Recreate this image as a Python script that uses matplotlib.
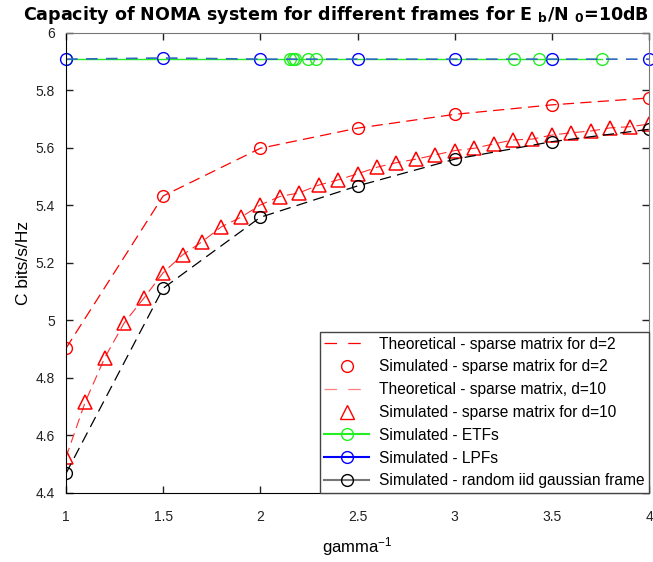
import numpy as np
import matplotlib
matplotlib.use('Agg')
import matplotlib.pyplot as plt
from matplotlib.lines import Line2D

plt.rcParams['font.family'] = ['Liberation Sans', 'DejaVu Sans']
plt.rcParams['mathtext.fontset'] = 'custom'
plt.rcParams['mathtext.rm'] = 'Liberation Sans'
plt.rcParams['mathtext.it'] = 'Liberation Sans'
plt.rcParams['mathtext.bf'] = 'DejaVu Sans:bold'

# gamma^-1 grid
x_coarse = [1.0, 1.5, 2.0, 2.5, 3.0, 3.5, 4.0]
x_fine = [1.0, 1.1, 1.2, 1.3, 1.4, 1.5, 1.6, 1.7, 1.8, 1.9, 2.0,
          2.1, 2.2, 2.3, 2.4, 2.5, 2.6, 2.7, 2.8, 2.9, 3.0,
          3.1, 3.2, 3.3, 3.4, 3.5, 3.6, 3.7, 3.8, 3.9, 4.0]

# sparse matrix d=2 (theory + simulation)
c_sparse_d2 = [4.903, 5.433, 5.599, 5.669, 5.717, 5.750, 5.774]
# sparse matrix d=10
c_sparse_d10 = [4.524, 4.718, 4.871, 4.992, 5.077, 5.166, 5.228, 5.274, 5.326, 5.359, 5.402,
                5.431, 5.444, 5.471, 5.489, 5.510, 5.533, 5.549, 5.561, 5.576, 5.591,
                5.599, 5.614, 5.628, 5.631, 5.645, 5.653, 5.659, 5.670, 5.674, 5.683]
# ETFs (irregular gamma values)
x_etf = [1.0, 2.152, 2.166, 2.179, 2.247, 2.285, 3.303, 3.434, 3.756]
c_etf = [5.909, 5.909, 5.909, 5.909, 5.909, 5.909, 5.909, 5.909, 5.909]
# LPFs
c_lpf = [5.909, 5.913, 5.909, 5.909, 5.909, 5.909, 5.909]
# random iid gaussian frame
c_gauss = [4.468, 5.112, 5.359, 5.468, 5.561, 5.622, 5.665]

fig = plt.figure(figsize=(6.53, 5.62), dpi=100)
ax = fig.add_axes([0.101, 0.1228, 0.893, 0.8185])

ax.plot(x_coarse, c_sparse_d2, color='red', lw=0.9, dashes=(9, 5))
ax.plot(x_coarse, c_sparse_d2, 'o', color='red', ms=8.5, mfc='none', mew=1)
ax.plot(x_fine, c_sparse_d10, color='#ff3030', lw=0.8, dashes=(9, 5))
ax.plot(x_fine, c_sparse_d10, '^', color='red', ms=10, mfc='none', mew=1.1)
ax.plot(x_etf, c_etf, '-o', color='#22ee22', lw=1, ms=8.5, mfc='none', mew=1)
ax.plot(x_coarse, c_lpf, 'o', color='blue', ms=8.5, mfc='none', mew=1, clip_on=False)
ax.plot(x_coarse, c_lpf, color='#3068c0', lw=1.2, dashes=(7, 5))
ax.plot(x_coarse, c_gauss, color='black', lw=0.9, dashes=(9, 5))
ax.plot(x_coarse, c_gauss, 'o', color='black', ms=8.5, mfc='none', mew=1)

ax.set_xlim(1, 4)
ax.set_ylim(4.4, 6)
ax.set_xticks([1, 1.5, 2, 2.5, 3, 3.5, 4])
ax.set_xticklabels(['1', '1.5', '2', '2.5', '3', '3.5', '4'])
ax.set_yticks([4.4, 4.6, 4.8, 5, 5.2, 5.4, 5.6, 5.8, 6])
ax.set_yticklabels(['4.4', '4.6', '4.8', '5', '5.2', '5.4', '5.6', '5.8', '6'])
ax.tick_params(direction='in', length=5, width=1, top=True, right=True,
               labelsize=10, colors='#222222')
ax.tick_params(axis='x', pad=12)
ax.tick_params(axis='y', pad=8)
for side in ['left', 'bottom']:
    ax.spines[side].set_color('black')
for side in ['top', 'right']:
    ax.spines[side].set_color('#777777')

ax.set_xlabel('gamma$^{-1}$', fontsize=12, labelpad=8)
ax.set_ylabel('C bits/s/Hz', fontsize=12.5, labelpad=3)
ax.set_title(r'Capacity of NOMA system for different frames for E $_{\mathbf{b}}$/N $_{\mathbf{0}}$=10dB',
             fontsize=12.6, fontweight='bold', family='DejaVu Sans', pad=9, x=0.463)

handles = [
    Line2D([], [], color='red', lw=0.9, dashes=(10, 9)),
    Line2D([], [], ls='none', marker='o', color='red', ms=8.5, mfc='none'),
    Line2D([], [], color='#ff8080', lw=0.9, dashes=(10, 9)),
    Line2D([], [], ls='none', marker='^', color='red', ms=10, mfc='none'),
    Line2D([], [], color='#22ee22', marker='o', ms=8.5, mfc='none'),
    Line2D([], [], color='blue', marker='o', ms=8.5, mfc='none'),
    Line2D([], [], color='#777777', marker='o', mec='black', ms=8.5, mfc='none'),
]
labels = ['Theoretical - sparse matrix for d=2',
          'Simulated - sparse matrix for d=2',
          'Theoretical - sparse matrix, d=10',
          'Simulated - sparse matrix for d=10',
          'Simulated - ETFs',
          'Simulated - LPFs',
          'Simulated - random iid gaussian frame']
leg = ax.legend(handles, labels, loc='lower right', bbox_to_anchor=(1.0, 0.0),
                fontsize=11.2, frameon=True, fancybox=False, framealpha=1,
                edgecolor='#444444', borderaxespad=0, handlelength=2.9,
                handletextpad=0.6, labelspacing=0.5, borderpad=0.3)
leg.get_frame().set_linewidth(1)

fig.savefig('out.png', dpi=100)
